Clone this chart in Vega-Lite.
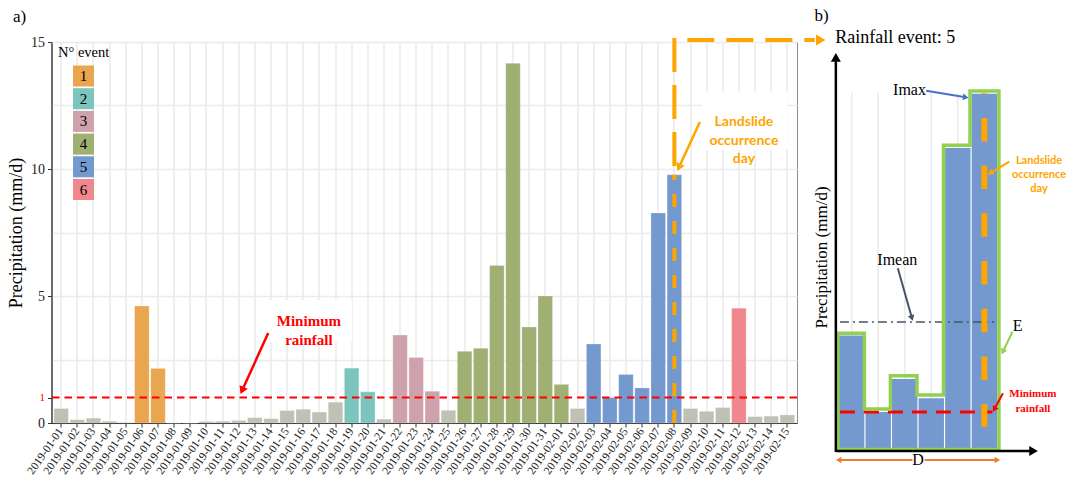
{
  "$schema": "https://vega.github.io/schema/vega-lite/v6.json",
  "width": 745.5,
  "height": 381,
  "autosize": "none",
  "padding": {"left": 51.5, "top": 42, "right": 276, "bottom": 54},
  "background": "white",
  "config": {
    "font": "Liberation Serif",
    "view": {"stroke": "#8C8C8C", "strokeWidth": 1},
    "text": {"font": "Liberation Serif", "color": "#000000"}
  },
  "datasets": {
    "daily": [
      {"date": "2019-01-01", "precip": 0.57, "event": "0"},
      {"date": "2019-01-02", "precip": 0.13, "event": "0"},
      {"date": "2019-01-03", "precip": 0.19, "event": "0"},
      {"date": "2019-01-04", "precip": 0.07, "event": "0"},
      {"date": "2019-01-05", "precip": 0.02, "event": "0"},
      {"date": "2019-01-06", "precip": 4.61, "event": "1"},
      {"date": "2019-01-07", "precip": 2.15, "event": "1"},
      {"date": "2019-01-08", "precip": 0, "event": "0"},
      {"date": "2019-01-09", "precip": 0, "event": "0"},
      {"date": "2019-01-10", "precip": 0.06, "event": "0"},
      {"date": "2019-01-11", "precip": 0.07, "event": "0"},
      {"date": "2019-01-12", "precip": 0.1, "event": "0"},
      {"date": "2019-01-13", "precip": 0.21, "event": "0"},
      {"date": "2019-01-14", "precip": 0.17, "event": "0"},
      {"date": "2019-01-15", "precip": 0.49, "event": "0"},
      {"date": "2019-01-16", "precip": 0.54, "event": "0"},
      {"date": "2019-01-17", "precip": 0.43, "event": "0"},
      {"date": "2019-01-18", "precip": 0.82, "event": "0"},
      {"date": "2019-01-19", "precip": 2.16, "event": "2"},
      {"date": "2019-01-20", "precip": 1.23, "event": "2"},
      {"date": "2019-01-21", "precip": 0.15, "event": "0"},
      {"date": "2019-01-22", "precip": 3.46, "event": "3"},
      {"date": "2019-01-23", "precip": 2.58, "event": "3"},
      {"date": "2019-01-24", "precip": 1.25, "event": "3"},
      {"date": "2019-01-25", "precip": 0.5, "event": "0"},
      {"date": "2019-01-26", "precip": 2.82, "event": "4"},
      {"date": "2019-01-27", "precip": 2.94, "event": "4"},
      {"date": "2019-01-28", "precip": 6.2, "event": "4"},
      {"date": "2019-01-29", "precip": 14.16, "event": "4"},
      {"date": "2019-01-30", "precip": 3.78, "event": "4"},
      {"date": "2019-01-31", "precip": 5.0, "event": "4"},
      {"date": "2019-02-01", "precip": 1.52, "event": "4"},
      {"date": "2019-02-02", "precip": 0.57, "event": "0"},
      {"date": "2019-02-03", "precip": 3.11, "event": "5"},
      {"date": "2019-02-04", "precip": 1.0, "event": "5"},
      {"date": "2019-02-05", "precip": 1.91, "event": "5"},
      {"date": "2019-02-06", "precip": 1.38, "event": "5"},
      {"date": "2019-02-07", "precip": 8.27, "event": "5"},
      {"date": "2019-02-08", "precip": 9.77, "event": "5"},
      {"date": "2019-02-09", "precip": 0.57, "event": "0"},
      {"date": "2019-02-10", "precip": 0.46, "event": "0"},
      {"date": "2019-02-11", "precip": 0.61, "event": "0"},
      {"date": "2019-02-12", "precip": 4.52, "event": "6"},
      {"date": "2019-02-13", "precip": 0.25, "event": "0"},
      {"date": "2019-02-14", "precip": 0.27, "event": "0"},
      {"date": "2019-02-15", "precip": 0.32, "event": "0"}
    ],
    "eventB": [
      {"d": 3, "v": 3.11},
      {"d": 4, "v": 1.0},
      {"d": 5, "v": 1.91},
      {"d": 6, "v": 1.38},
      {"d": 7, "v": 8.27},
      {"d": 8, "v": 9.77}
    ],
    "outlineB": [
      {"k": 0, "d": 2.48, "v": -0.03},
      {"k": 1, "d": 2.48, "v": 3.17},
      {"k": 2, "d": 3.48, "v": 3.17},
      {"k": 3, "d": 3.48, "v": 1.08},
      {"k": 4, "d": 4.46, "v": 1.08},
      {"k": 5, "d": 4.46, "v": 2.0},
      {"k": 6, "d": 5.46, "v": 2.0},
      {"k": 7, "d": 5.46, "v": 1.47},
      {"k": 8, "d": 6.46, "v": 1.47},
      {"k": 9, "d": 6.46, "v": 8.35},
      {"k": 10, "d": 7.46, "v": 8.35},
      {"k": 11, "d": 7.46, "v": 9.84},
      {"k": 12, "d": 8.55, "v": 9.84},
      {"k": 13, "d": 8.55, "v": -0.03},
      {"k": 14, "d": 2.48, "v": -0.03}
    ]
  },
  "layer": [
    {
      "layer": [
        {
          "data": {"name": "daily"},
          "mark": {"type": "bar", "stroke": "#FFFFFF", "strokeWidth": 0.4, "strokeOpacity": 0.6},
          "encoding": {
            "x": {
              "field": "date", "type": "ordinal", "sort": null,
              "scale": {"paddingInner": 0.1, "paddingOuter": 0.15},
              "axis": {
                "title": null, "labelAngle": -55, "labelAlign": "right", "labelBaseline": "middle",
                "labelFont": "Liberation Serif", "labelFontSize": 11.5, "labelColor": "#222222",
                "labelPadding": 2, "labelOverlap": false, "labelBound": false,
                "tickSize": 4, "tickColor": "#333333", "tickWidth": 1,
                "domainColor": "#333333", "domainWidth": 1.2,
                "grid": true, "gridColor": "#EBEBEB", "gridWidth": 1.6
              }
            },
            "y": {
              "field": "precip", "type": "quantitative",
              "scale": {"domain": [0, 15], "nice": false, "zero": false},
              "axis": {
                "title": "Precipitation (mm/d)", "titleFont": "Liberation Serif", "titleFontSize": 18,
                "titleFontWeight": "normal", "titleColor": "#000000", "titlePadding": 5,
                "values": [0, 1, 2.5, 5, 7.5, 10, 12.5, 15],
                "labelExpr": "(datum.value == 2.5 || datum.value == 7.5 || datum.value == 12.5) ? '' : datum.label",
                "labelFont": "Liberation Serif", "labelFontSize": {"condition": {"test": "datum.value == 1", "value": 11}, "value": 14},
                "labelColor": {"condition": {"test": "datum.value == 1", "value": "#FF0000"}, "value": "#222222"},
                "labelPadding": 3,
                "tickSize": 4, "tickColor": "#333333",
                "tickOpacity": {"condition": {"test": "datum.value == 2.5 || datum.value == 7.5 || datum.value == 12.5", "value": 0}, "value": 1},
                "domainColor": "#333333", "domainWidth": 1.2,
                "grid": true, "gridColor": "#EBEBEB", "gridWidth": 1.6,
                "gridOpacity": {"condition": {"test": "datum.value == 1", "value": 0}, "value": 1}
              }
            },
            "color": {
              "field": "event", "type": "nominal",
              "scale": {
                "domain": ["0", "1", "2", "3", "4", "5", "6"],
                "range": ["#BFC1B5", "#E9A64E", "#7CC5BF", "#CDA2AC", "#A0AF72", "#7499CE", "#EF878C"]
              },
              "legend": {
                "values": ["1", "2", "3", "4", "5", "6"],
                "title": "N° event", "orient": "none", "legendX": 6.5, "legendY": 4,
                "symbolType": "square", "symbolSize": 441, "symbolStrokeWidth": 0, "symbolOpacity": 1,
                "symbolOffset": 15, "labelAlign": "center", "labelOffset": -10.5,
                "labelFont": "Liberation Serif", "labelFontSize": 15, "labelColor": "#000000",
                "titleFont": "Liberation Serif", "titleFontSize": 14.5, "titleFontWeight": "normal",
                "titleColor": "#000000", "titlePadding": 5, "rowPadding": 1.7, "padding": 0
              }
            }
          }
        },
        {
          "data": {"values": [{"threshold": 1}]},
          "mark": {"type": "rule", "color": "#FF0000", "strokeWidth": 2, "strokeDash": [7.5, 5]},
          "encoding": {"y": {"field": "threshold", "type": "quantitative"}}
        }
      ]
    },
    {
      "encoding": {
        "x": {"field": "i", "type": "quantitative", "scale": {"domain": [-0.6, 45.6], "range": [0, 745.5], "nice": false, "zero": false}, "axis": null},
        "y": {"field": "v", "type": "quantitative", "scale": {"domain": [0, 15], "nice": false, "zero": false}, "axis": null}
      },
      "layer": [
        {
          "data": {"values": [{"i": 12.83, "i2": 18.02, "v": 4.84, "v2": 3.19}, {"i": 39.7, "i2": 45.03, "v": 13.03, "v2": 10.75}]},
          "mark": {"type": "rect", "color": "#FFFFFF"},
          "encoding": {"x2": {"field": "i2"}, "y2": {"field": "v2"}}
        },
        {
          "data": {"values": [{"i": 38, "v": 0, "v2": 9.77}]},
          "mark": {"type": "rule", "color": "#FFA500", "strokeWidth": 4, "strokeDash": [13, 14]},
          "encoding": {"y2": {"field": "v2"}}
        },
        {
          "data": {"values": [{"i": 38, "v": 15.16, "v2": 9.77}]},
          "mark": {"type": "rule", "color": "#FFA500", "strokeWidth": 4, "strokeDash": [34, 13]},
          "encoding": {"y2": {"field": "v2"}}
        },
        {
          "data": {"values": [{"i": 38, "i2": 46.7, "v": 15.08}]},
          "mark": {"type": "rule", "color": "#FFA500", "strokeWidth": 4, "strokeDash": [27, 12], "strokeDashOffset": 26},
          "encoding": {"x2": {"field": "i2"}}
        },
        {
          "data": {"values": [{"i": 47.07, "v": 15.08}]},
          "mark": {"type": "point", "shape": "triangle-right", "filled": true, "size": 120, "color": "#FFA500", "opacity": 1}
        },
        {
          "data": {"values": [{"i": 12.83, "v": 3.54, "i2": 11.21, "v2": 1.28}]},
          "mark": {"type": "rule", "color": "#FF0000", "strokeWidth": 2.5},
          "encoding": {"x2": {"field": "i2"}, "y2": {"field": "v2"}}
        },
        {
          "data": {"values": [{"i": 11.21, "v": 1.28}]},
          "mark": {"type": "point", "shape": "triangle-up", "angle": 204, "filled": true, "size": 80, "color": "#FF0000", "opacity": 1}
        },
        {
          "data": {"values": [{"i": 39.58, "v": 11.85, "i2": 38.28, "v2": 10.06}]},
          "mark": {"type": "rule", "color": "#FFA500", "strokeWidth": 2.5},
          "encoding": {"x2": {"field": "i2"}, "y2": {"field": "v2"}}
        },
        {
          "data": {"values": [{"i": 38.28, "v": 10.06}]},
          "mark": {"type": "point", "shape": "triangle-up", "angle": 205, "filled": true, "size": 80, "color": "#FFA500", "opacity": 1}
        },
        {
          "data": {"values": [{"i": 15.35, "v": 4.01, "t": "Minimum\nrainfall"}]},
          "mark": {"type": "text", "font": "Liberation Serif", "fontWeight": "bold", "fontSize": 15, "color": "#FF0000", "lineBreak": "\n", "lineHeight": 19, "align": "center", "baseline": "middle"},
          "encoding": {"text": {"field": "t"}}
        },
        {
          "data": {"values": [{"i": 42.31, "v": 11.85, "t": "Landslide\noccurrence\nday"}]},
          "mark": {"type": "text", "font": "Lato", "fontWeight": "bold", "fontSize": 14, "color": "#FFA500", "lineBreak": "\n", "lineHeight": 18.5, "align": "center", "baseline": "middle"},
          "encoding": {"text": {"field": "t"}}
        },
        {
          "data": {"values": [{"i": -2.985, "v": 16.0, "t": "a)"}]},
          "mark": {"type": "text", "font": "Liberation Serif", "fontSize": 17, "color": "#000000", "align": "left", "baseline": "middle"},
          "encoding": {"text": {"field": "t"}}
        }
      ]
    },
    {
      "encoding": {
        "x": {"field": "d", "type": "quantitative", "scale": {"domain": [2.5, 8.5], "range": [781.9, 951.1], "nice": false, "zero": false}, "axis": null},
        "y": {"field": "v", "type": "quantitative", "scale": {"domain": [0, 10], "range": [406.3, 43.3], "nice": false, "zero": false}, "axis": null}
      },
      "layer": [
        {
          "data": {"values": [{"v": 2.5}, {"v": 5}, {"v": 7.5}]},
          "mark": {"type": "rule", "color": "#EBEBEB", "strokeWidth": 1.6},
          "encoding": {"x": {"datum": 2.5}, "x2": {"datum": 8.5}}
        },
        {
          "data": {"name": "eventB"},
          "mark": {"type": "rule", "color": "#EBEBEB", "strokeWidth": 1.6},
          "encoding": {"y": {"datum": 0}, "y2": {"datum": 9.79}}
        },
        {
          "data": {"name": "eventB"},
          "mark": {"type": "bar", "width": 25.4, "color": "#7499CE"},
          "encoding": {"y2": {"datum": 0}}
        },
        {
          "data": {"values": [{"d": 2.557, "d2": 8.37, "v": 3.48}]},
          "mark": {"type": "rule", "color": "#44546A", "strokeWidth": 1.5, "strokeDash": [9, 4, 2, 4]},
          "encoding": {"x2": {"field": "d2"}}
        },
        {
          "data": {"values": [{"d": 2.557, "d2": 8.3, "v": 1}]},
          "mark": {"type": "rule", "color": "#FF0000", "strokeWidth": 3, "strokeDash": [15, 9]},
          "encoding": {"x2": {"field": "d2"}}
        },
        {
          "data": {"values": [{"d": 8, "v": 9.79, "v2": 0.595}]},
          "mark": {"type": "rule", "color": "#FFA500", "strokeWidth": 6, "strokeDash": [23.5, 24.2], "strokeDashOffset": 22.7},
          "encoding": {"y2": {"field": "v2"}}
        },
        {
          "data": {"name": "outlineB"},
          "mark": {"type": "line", "color": "#92D050", "strokeWidth": 3.5, "strokeJoin": "miter", "strokeCap": "square"},
          "encoding": {"order": {"field": "k", "type": "quantitative"}}
        },
        {
          "data": {"values": [{"d": 2.404, "d2": 2.404, "v": -0.1, "v2": 10.72}, {"d": 2.404, "d2": 9.8, "v": -0.074, "v2": -0.074}]},
          "mark": {"type": "rule", "color": "#000000", "strokeWidth": 2.5},
          "encoding": {"x2": {"field": "d2"}, "y2": {"field": "v2"}}
        },
        {
          "data": {"values": [{"d": 2.404, "v": 10.77}]},
          "mark": {"type": "point", "shape": "triangle-up", "filled": true, "size": 100, "color": "#000000", "opacity": 1}
        },
        {
          "data": {"values": [{"d": 9.855, "v": -0.074}]},
          "mark": {"type": "point", "shape": "triangle-right", "filled": true, "size": 100, "color": "#000000", "opacity": 1}
        },
        {
          "data": {"values": [{"d": 5.81, "v": 9.85, "d2": 7.3, "v2": 9.67}]},
          "mark": {"type": "rule", "color": "#4472C4", "strokeWidth": 2},
          "encoding": {"x2": {"field": "d2"}, "y2": {"field": "v2"}}
        },
        {
          "data": {"values": [{"d": 7.3, "v": 9.67}]},
          "mark": {"type": "point", "shape": "triangle-up", "angle": 98, "filled": true, "size": 45, "color": "#4472C4", "opacity": 1}
        },
        {
          "data": {"values": [{"d": 4.74, "v": 4.96, "d2": 5.27, "v2": 3.59}]},
          "mark": {"type": "rule", "color": "#44546A", "strokeWidth": 2},
          "encoding": {"x2": {"field": "d2"}, "y2": {"field": "v2"}}
        },
        {
          "data": {"values": [{"d": 5.27, "v": 3.59}]},
          "mark": {"type": "point", "shape": "triangle-up", "angle": 163, "filled": true, "size": 45, "color": "#44546A", "opacity": 1}
        },
        {
          "data": {"values": [{"d": 8.7, "v": 1.515, "d2": 8.376, "v2": 1.074}]},
          "mark": {"type": "rule", "color": "#FF0000", "strokeWidth": 2},
          "encoding": {"x2": {"field": "d2"}, "y2": {"field": "v2"}}
        },
        {
          "data": {"values": [{"d": 8.376, "v": 1.074}]},
          "mark": {"type": "point", "shape": "triangle-up", "angle": 210, "filled": true, "size": 45, "color": "#FF0000", "opacity": 1}
        },
        {
          "data": {"values": [{"d": 8.94, "v": 7.9, "d2": 8.22, "v2": 7.58}]},
          "mark": {"type": "rule", "color": "#FFA500", "strokeWidth": 2},
          "encoding": {"x2": {"field": "d2"}, "y2": {"field": "v2"}}
        },
        {
          "data": {"values": [{"d": 8.22, "v": 7.58}]},
          "mark": {"type": "point", "shape": "triangle-up", "angle": 240, "filled": true, "size": 45, "color": "#FFA500", "opacity": 1}
        },
        {
          "data": {"values": [{"d": 9.06, "v": 3.21, "d2": 8.7, "v2": 2.66}]},
          "mark": {"type": "rule", "color": "#92D050", "strokeWidth": 2},
          "encoding": {"x2": {"field": "d2"}, "y2": {"field": "v2"}}
        },
        {
          "data": {"values": [{"d": 8.7, "v": 2.66}]},
          "mark": {"type": "point", "shape": "triangle-up", "angle": 206.5, "filled": true, "size": 45, "color": "#92D050", "opacity": 1}
        },
        {
          "data": {"values": [{"d": 2.5, "d2": 5.29, "v": -0.322}, {"d": 5.75, "d2": 8.5, "v": -0.322}]},
          "mark": {"type": "rule", "color": "#ED7D31", "strokeWidth": 2},
          "encoding": {"x2": {"field": "d2"}}
        },
        {
          "data": {"values": [{"d": 2.51, "v": -0.322}]},
          "mark": {"type": "point", "shape": "triangle-left", "filled": true, "size": 40, "color": "#ED7D31", "opacity": 1}
        },
        {
          "data": {"values": [{"d": 8.49, "v": -0.322}]},
          "mark": {"type": "point", "shape": "triangle-right", "filled": true, "size": 40, "color": "#ED7D31", "opacity": 1}
        },
        {
          "data": {"values": [
            {"d": 5.18, "v": 9.87, "t": "Imax"},
            {"d": 4.72, "v": 5.19, "t": "Imean"},
            {"d": 9.26, "v": 3.37, "t": "E"},
            {"d": 5.5, "v": -0.32, "t": "D"}
          ]},
          "mark": {"type": "text", "font": "Liberation Serif", "fontSize": 16, "color": "#000000", "align": "center", "baseline": "middle"},
          "encoding": {"text": {"field": "t"}}
        },
        {
          "data": {"values": [{"d": 2.38, "v": 11.3, "t": "Rainfall event: 5"}]},
          "mark": {"type": "text", "font": "Liberation Serif", "fontSize": 18, "color": "#000000", "align": "left", "baseline": "middle"},
          "encoding": {"text": {"field": "t"}}
        },
        {
          "data": {"values": [{"d": 1.6, "v": 11.9, "t": "b)"}]},
          "mark": {"type": "text", "font": "Liberation Serif", "fontSize": 17, "color": "#000000", "align": "left", "baseline": "middle"},
          "encoding": {"text": {"field": "t"}}
        },
        {
          "data": {"values": [{"d": 1.865, "v": 5.256, "t": "Precipitation (mm/d)"}]},
          "mark": {"type": "text", "font": "Liberation Serif", "fontSize": 17, "color": "#000000", "align": "center", "baseline": "middle", "angle": 270},
          "encoding": {"text": {"field": "t"}}
        },
        {
          "data": {"values": [{"d": 9.83, "v": 1.49, "t": "Minimum\nrainfall"}]},
          "mark": {"type": "text", "font": "Liberation Serif", "fontWeight": "bold", "fontSize": 11, "color": "#FF0000", "lineBreak": "\n", "lineHeight": 15, "align": "center", "baseline": "middle"},
          "encoding": {"text": {"field": "t"}}
        },
        {
          "data": {"values": [{"d": 10.06, "v": 7.92, "t": "Landslide\noccurrence\nday"}]},
          "mark": {"type": "text", "font": "Lato", "fontWeight": "bold", "fontSize": 11, "color": "#FFA500", "lineBreak": "\n", "lineHeight": 14.2, "align": "center", "baseline": "middle"},
          "encoding": {"text": {"field": "t"}}
        }
      ]
    }
  ],
  "resolve": {"scale": {"x": "independent", "y": "independent"}}
}
